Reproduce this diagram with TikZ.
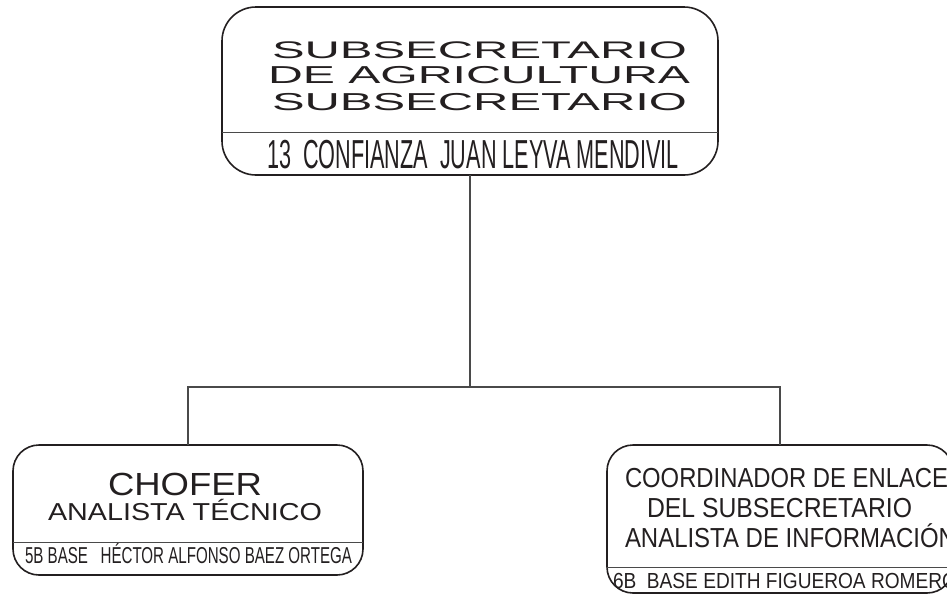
\documentclass[tikz,border=0pt]{standalone}
\usepackage{fontspec}
\usepackage{graphicx}
\newfontfamily\arialf{Liberation Sans}
\newcommand{\fitline}[3]{\resizebox{#1pt}{\height}{\fontsize{#2}{#2}\selectfont\arialf #3}}
\definecolor{ink}{HTML}{231F20}
\definecolor{wire}{HTML}{4A4A4A}
\tikzset{
  boxshape/.style={draw=ink, line width=1.6pt, rectangle, inner sep=0pt, outer sep=0pt},
  txt/.style={anchor=base west, inner sep=0pt, outer sep=0pt, text=ink},
  wireline/.style={draw=wire, line width=1.1pt},
  divline/.style={draw=wire, line width=1pt}
}
\begin{document}
\begin{tikzpicture}[x=1pt,y=-1pt]
\useasboundingbox (0,0) rectangle (947,595);
\clip (0,0) rectangle (947,595);
% boxes
\node[boxshape, rounded corners=34pt, minimum width=496pt, minimum height=168pt] (top) at (470,91) {};
\node[boxshape, rounded corners=26pt, minimum width=350pt, minimum height=130pt] (left) at (188,510) {};
\node[boxshape, rounded corners=26pt, minimum width=346pt, minimum height=148pt] (right) at (780,519) {};
% dividers
\draw[divline] (222,132) -- (718,132);
\draw[divline] (13,542) -- (363,542);
\draw[divline] (607,567) -- (953,567);
% connectors
\coordinate (junction) at (470,387);
\draw[wireline] (top.south) -- (junction);
\draw[wireline] (left.north) |- (junction);
\draw[wireline] (right.north) |- (junction);
% top texts
\node[txt] (t1) at (272,58) {\fitline{415}{24}{SUBSECRETARIO}};
\node[txt] (t2) at (268,83) {\fitline{422}{24.5}{DE AGRICULTURA}};
\node[txt] (t3) at (272,110) {\fitline{415}{24.5}{SUBSECRETARIO}};
\node[txt] (t4) at (267,168) {\fitline{412}{40.5}{13\ \ CONFIANZA\ \ JUAN LEYVA MENDIVIL}};
% left texts
\node[txt] (l1) at (108,495) {\fitline{154}{32}{CHOFER}};
\node[txt] (l2) at (48,520) {\fitline{274}{24.5}{ANALISTA TÉCNICO}};
\node[txt] (l3) at (25,563) {\fitline{327}{23}{5B BASE\ \ \ HÉCTOR ALFONSO BAEZ ORTEGA}};
% right texts
\node[txt] (r1) at (625,487) {\fitline{323}{27.5}{COORDINADOR DE ENLACE}};
\node[txt] (r2) at (647,517) {\fitline{265}{27.5}{DEL SUBSECRETARIO}};
\node[txt] (r3) at (625,547) {\fitline{331}{27.5}{ANALISTA DE INFORMACIÓN}};
\node[txt] (r4) at (613,588) {\fitline{344}{21.8}{6B\ \ BASE EDITH FIGUEROA ROMERO}};
\end{tikzpicture}
\end{document}
